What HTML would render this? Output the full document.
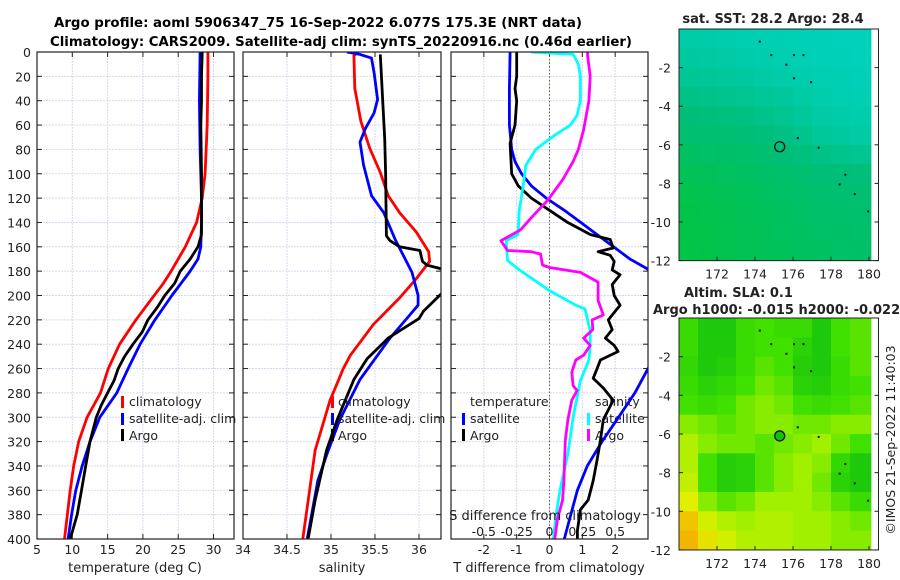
<!DOCTYPE html>
<html><head><meta charset="utf-8"><style>
html,body{margin:0;padding:0;background:#fff;}
svg{display:block;font-family:"DejaVu Sans","Liberation Sans",sans-serif;}
</style></head><body>
<svg id="fig" width="900" height="580" viewBox="0 0 900 580" xmlns="http://www.w3.org/2000/svg">
<defs>
<clipPath id="c1"><rect x="37" y="52" width="197" height="487"/></clipPath>
<clipPath id="c2"><rect x="243" y="52" width="198" height="487"/></clipPath>
<clipPath id="c3"><rect x="451" y="52" width="197" height="487"/></clipPath>
</defs>
<text x="318" y="27" font-size="13" font-weight="bold" text-anchor="middle" textLength="528" lengthAdjust="spacingAndGlyphs">Argo profile: aoml 5906347_75 16-Sep-2022 6.077S 175.3E (NRT data)</text>
<text x="341" y="46" font-size="13" font-weight="bold" text-anchor="middle" textLength="582" lengthAdjust="spacingAndGlyphs">Climatology: CARS2009. Satellite-adj clim: synTS_20220916.nc (0.46d earlier)</text>
<g id="layer"></g>
</svg>
<script>
// ---------- data ----------
const depthTicks=[0,20,40,60,80,100,120,140,160,180,200,220,240,260,280,300,320,340,360,380,400];
const tempTicks=[5,10,15,20,25,30];
const salTicks=[34,34.5,35,35.5,36];
const tdiffTicks=[-2,-1,0,1,2];
const sdiffTicks=[-0.5,-0.25,0,0.25,0.5];
const sdiffTickLabels=["-0.5","-0.25","0","0.25","0.5"];

const climTdepth=[0,20,60,100,120,140,160,170,180,190,200,210,220,240,260,280,300,320,340,360,400];
const climT=[29.2,29.2,29.1,28.8,28.4,27.6,26.0,25.0,24.0,22.9,21.6,20.3,19.0,16.7,15.1,14.0,12.1,10.9,10.2,9.7,8.9];
const satTdepth=[0,40,80,120,140,160,170,180,200,220,240,260,280,300,320,340,360,380,400];
const satT=[28.1,28.0,28.1,28.3,28.3,28.2,27.8,26.7,24.1,21.7,19.6,17.9,16.3,13.9,12.5,11.4,10.5,9.9,9.4];
const argoTdepth=[0,20,40,60,100,120,150,160,170,180,190,200,210,220,230,240,250,260,270,280,290,300,320,340,360,380,400];
const argoT=[28.4,28.3,28.3,28.2,28.3,28.3,28.3,27.8,26.7,25.3,24.5,23.1,22.0,20.7,19.9,18.6,17.4,16.5,15.9,15.0,14.1,13.4,12.5,11.9,11.3,10.7,9.7];

const climSdepth=[0,3,30,57,79,99,118,132,148,164,172,186,202,224,249,260,286,327,400];
const climS=[35.31,35.26,35.27,35.34,35.44,35.56,35.65,35.78,35.97,36.11,36.12,35.97,35.78,35.48,35.22,35.14,34.99,34.82,34.68];
const satSdepth=[0,2,5,17,39,50,63,74,93,118,132,154,181,200,208,219,235,252,269,302,327,352,400];
const satS=[35.18,35.33,35.46,35.49,35.53,35.49,35.39,35.33,35.37,35.46,35.6,35.73,35.92,35.99,35.99,35.86,35.67,35.5,35.33,35.1,34.97,34.85,34.73];
const argoSdepth=[2,43,71,99,151,155,160,163,172,175,179,190,198,213,219,235,252,269,302,327,368,400];
const argoS=[35.56,35.59,35.61,35.62,35.63,35.67,35.78,36.01,36.04,36.09,36.3,36.4,36.26,36.05,36.0,35.65,35.41,35.26,35.07,34.95,34.82,34.74];

const dTsatDepth=[0,30,60,80,90,100,110,120,130,140,150,160,170,180,250,280,300,320,340,360,380,400];
const dTsat=[-1.2,-1.22,-1.22,-1.15,-1.05,-0.85,-0.55,-0.1,0.45,0.95,1.45,1.95,2.45,3.1,3.2,2.6,2.1,1.6,1.15,0.85,0.65,0.45];
const dTargoDepth=[0,20,30,40,60,75,100,110,120,130,140,150,154,161,164,167,172,179,183,191,200,208,214,220,228,235,241,246,253,260,268,276,286,302,319,335,352,368,376,393,400];
const dTargo=[-1.0,-1.0,-1.05,-1.0,-1.05,-1.2,-1.15,-0.95,-0.55,0.0,0.55,1.25,1.85,1.94,1.48,1.85,1.97,1.91,2.15,1.91,1.97,2.15,1.97,1.79,1.91,1.70,1.97,2.09,1.55,1.45,1.33,1.64,1.94,1.64,1.55,1.45,1.33,1.18,0.94,0.85,0.85];
const dSsatDepth=[0,2,10,20,40,52,60,68,80,93,110,130,150,155,171,173,179,196,208,211,229,241,253,270,300,330,360,380,400];
const dSsat=[-0.14,0.18,0.22,0.235,0.235,0.21,0.16,0.045,-0.105,-0.18,-0.2,-0.23,-0.24,-0.33,-0.32,-0.3,-0.23,0.0,0.2,0.27,0.31,0.31,0.3,0.235,0.18,0.14,0.08,0.05,0.03];
const dSargoDepth=[0,3,20,40,64,80,90,105,122,134,146,152,155,163,164,166,175,177,181,189,204,216,220,228,235,241,249,253,263,274,278,286,302,319,352,368,384,400];
const dSargo=[0.29,0.29,0.31,0.30,0.26,0.22,0.18,0.1,-0.015,-0.12,-0.22,-0.32,-0.37,-0.32,-0.14,-0.068,-0.053,0.0,0.235,0.37,0.37,0.41,0.325,0.33,0.26,0.31,0.26,0.2,0.17,0.18,0.21,0.17,0.14,0.12,0.11,0.1,0.06,0.04];

// maps
const lonTicks=[172,174,176,178,180];
const latTicks=[-2,-4,-6,-8,-10,-12];
const sstGrid=[
[0.84,0.86,0.88,0.90,0.92,0.93,0.94,0.96,0.97,0.98,0.98],
[0.78,0.80,0.83,0.86,0.88,0.90,0.92,0.94,0.96,0.97,0.97],
[0.70,0.72,0.75,0.78,0.82,0.85,0.88,0.91,0.93,0.95,0.95],
[0.60,0.62,0.65,0.68,0.72,0.76,0.82,0.87,0.90,0.92,0.92],
[0.50,0.52,0.54,0.57,0.62,0.68,0.75,0.82,0.86,0.88,0.88],
[0.42,0.44,0.46,0.48,0.52,0.58,0.66,0.74,0.78,0.82,0.82],
[0.32,0.34,0.36,0.38,0.42,0.48,0.54,0.60,0.64,0.68,0.68],
[0.22,0.24,0.28,0.32,0.36,0.40,0.44,0.48,0.50,0.52,0.52],
[0.14,0.18,0.22,0.26,0.30,0.34,0.38,0.42,0.44,0.46,0.46],
[0.10,0.14,0.18,0.22,0.26,0.30,0.34,0.38,0.40,0.42,0.42],
[0.10,0.12,0.16,0.20,0.24,0.28,0.32,0.34,0.36,0.38,0.38],
[0.08,0.12,0.16,0.20,0.24,0.26,0.30,0.32,0.34,0.36,0.36]];
const slaGrid=[
[.30,.10,.10,.30,.35,.30,.30,.10,.35,.40,.40],
[.30,.10,.10,.30,.35,.35,.20,.10,.35,.40,.40],
[.25,.10,.15,.30,.40,.35,.15,.10,.30,.40,.40],
[.30,.20,.25,.35,.45,.40,.20,.15,.30,.35,.35],
[.35,.30,.35,.45,.50,.45,.35,.30,.35,.40,.40],
[.50,.45,.40,.45,.50,.50,.45,.45,.50,.50,.50],
[.60,.50,.45,.45,.40,.45,.50,.55,.45,.35,.35],
[.60,.35,.15,.20,.40,.50,.55,.50,.25,.10,.10],
[.65,.35,.15,.20,.40,.50,.55,.45,.20,.10,.10],
[.75,.50,.40,.45,.55,.55,.55,.50,.40,.30,.30],
[.90,.70,.60,.55,.60,.60,.55,.55,.50,.45,.45],
[.95,.80,.70,.60,.60,.60,.55,.55,.50,.50,.50]];
const argoLon=175.3, argoLat=-6.1;

// ---------- helpers ----------
const NS="http://www.w3.org/2000/svg";
const L=document.getElementById('layer');
function mk(tag,at,parent){const e=document.createElementNS(NS,tag);for(const k in at)e.setAttribute(k,at[k]);(parent||L).appendChild(e);return e;}
const dTop=52,dBot=539;
function yD(d){return dTop+(d/400)*(dBot-dTop);}
const P1={x0:37,x1:234,v0:5,v1:32.9};
const P2={x0:243,x1:441,v0:34,v1:36.25};
const P3={x0:451,x1:648,v0:-3,v1:3};
function xs(P,v){return P.x0+(v-P.v0)/(P.v1-P.v0)*(P.x1-P.x0);}
function xS3(s){return xs(P3,s*4);}

function panel(P,ticks,name,labels){
  const g=mk('g',{});
  
  
  depthTicks.forEach(d=>{const l=mk('line',{x1:P.x0,x2:P.x1,y1:yD(d),y2:yD(d),stroke:'#d6d9ee','stroke-width':1,'stroke-dasharray':'2,1'},g);
    });
  ticks.forEach(v=>{const x=xs(P,v);const l=mk('line',{x1:x,x2:x,y1:dTop,y2:dBot,stroke:'#d6d9ee','stroke-width':1,'stroke-dasharray':'2,1'},g);
    });
  depthTicks.forEach(d=>{mk('line',{x1:P.x0,x2:P.x0+5,y1:yD(d),y2:yD(d),stroke:'#222'},g);mk('line',{x1:P.x1,x2:P.x1-5,y1:yD(d),y2:yD(d),stroke:'#222'},g);});
  ticks.forEach((v,i)=>{const x=xs(P,v);mk('line',{x1:x,x2:x,y1:dBot,y2:dBot-5,stroke:'#222'},g);mk('line',{x1:x,x2:x,y1:dTop,y2:dTop+5,stroke:'#222'},g);
    const t=mk('text',{x:x,y:554,'font-size':12.5,'text-anchor':'middle',fill:'#222'},g);t.textContent=labels?labels[i]:String(v);
    });
  return g;
}
function line(P,vals,depths,color,clip,name,xf){
  const pts=vals.map((v,i)=>(xf?xf(v):xs(P,v)).toFixed(1)+','+yD(depths[i]).toFixed(1)).join(' ');
  const e=mk('polyline',{points:pts,fill:'none',stroke:color,'stroke-width':2.8,'stroke-linejoin':'round','clip-path':'url(#'+clip+')'});
  
  
}
function frame(P){const r=mk('rect',{x:P.x0,y:dTop,width:P.x1-P.x0,height:dBot-dTop,fill:'none',stroke:'#222','stroke-width':1.2});
  }
function txt(x,y,s,opt,name){const t=mk('text',Object.assign({x:x,y:y,'font-size':12.5,fill:'#222'},opt||{}));t.textContent=s;
  return t;}
function legMark(x,y,color){const r=mk('rect',{x:x,y:y-11,width:3,height:12,fill:color});
  }

// ---------- panel 1 ----------
panel(P1,tempTicks,'temperature-panel');
line(P1,climT,climTdepth,'#ff0000','c1','climatology-temp-line');
line(P1,satT,satTdepth,'#0000ff','c1','satellite-temp-line');
line(P1,argoT,argoTdepth,'#000','c1','argo-temp-line');
frame(P1);
depthTicks.forEach(d=>{txt(31,yD(d)+5,String(d),{'text-anchor':'end'},'y-tick-label');});
txt(135,572,'temperature (deg C)',{'text-anchor':'middle','font-size':13},'x-axis-title-temperature');
legMark(121,407,'#ff0000');txt(129,406,'climatology',{},'legend-climatology');
legMark(121,424,'#0000ff');txt(129,423,'satellite-adj. clim',{},'legend-satellite');
legMark(121,440,'#000');txt(129,440,'Argo',{},'legend-argo');

// ---------- panel 2 ----------
panel(P2,salTicks,'salinity-panel');
line(P2,climS,climSdepth,'#ff0000','c2','climatology-salinity-line');
line(P2,satS,satSdepth,'#0000ff','c2','satellite-salinity-line');
line(P2,argoS,argoSdepth,'#000','c2','argo-salinity-line');
frame(P2);
txt(342,572,'salinity',{'text-anchor':'middle','font-size':13},'x-axis-title-salinity');
legMark(331,407,'#ff0000');txt(338,406,'climatology',{},'legend-climatology-2');
legMark(331,424,'#0000ff');txt(338,423,'satellite-adj. clim',{},'legend-satellite-2');
legMark(331,440,'#000');txt(338,440,'Argo',{},'legend-argo-2');

// ---------- panel 3 ----------
panel(P3,tdiffTicks,'difference-panel');
const zl=mk('line',{x1:xs(P3,0),x2:xs(P3,0),y1:dTop,y2:dBot,stroke:'#556b2f','stroke-width':1,'stroke-dasharray':'1.5,2'});

txt(470,406,'temperature',{},'legend-temperature-heading');
legMark(462,424,'#0000ff');txt(470,423,'satellite',{},'legend-temp-satellite');
legMark(462,440,'#000');txt(470,440,'Argo',{},'legend-temp-argo');
txt(595,406,'salinity',{},'legend-salinity-heading');
legMark(587,424,'#00ffff');txt(595,423,'satellite',{},'legend-sal-satellite');
legMark(587,440,'#ff00ff');txt(595,440,'Argo',{},'legend-sal-argo');
line(P3,dTsat,dTsatDepth,'#0000ff','c3','tdiff-satellite-line');
line(P3,dTargo,dTargoDepth,'#000','c3','tdiff-argo-line');
line(P3,dSsat,dSsatDepth,'#00ffff','c3','sdiff-satellite-line',xS3);
line(P3,dSargo,dSargoDepth,'#ff00ff','c3','sdiff-argo-line',xS3);
frame(P3);
txt(545,520,'S difference from climatology',{'text-anchor':'middle','font-size':13},'s-axis-title');
sdiffTicks.forEach((s,i)=>txt(xS3(s),536,sdiffTickLabels[i],{'text-anchor':'middle'},'s-tick-label'));
txt(549,572,'T difference from climatology',{'text-anchor':'middle','font-size':13},'x-axis-title-tdiff');

// ---------- maps ----------
function lerpC(stops,v){v=Math.max(0,Math.min(1,v));for(let i=1;i<stops.length;i++){if(v<=stops[i][0]){const a=stops[i-1],b=stops[i],t=(v-a[0])/(b[0]-a[0]);
  return 'rgb('+[0,1,2].map(k=>Math.round(a[1][k]+(b[1][k]-a[1][k])*t)).join(',')+')';}}return 'rgb('+stops[stops.length-1][1].join(',')+')';}
const sstStops=[[0,[0,198,60]],[0.5,[0,190,120]],[1,[0,210,190]]];
const slaStops=[[0,[16,192,16]],[0.35,[64,224,0]],[0.55,[160,240,0]],[0.75,[224,240,0]],[1,[248,168,0]]];
function map(M,grid,stops,name,filledCircle){
  const g=mk('g',{});
  const X=lon=>M.x0+(lon-170)*M.px, Y=lat=>M.y0-lat*M.py;
  grid.forEach((row,r)=>row.forEach((v,c)=>{
    const lon0=170+c, lon1=Math.min(170+c+1,180.1);
    if(lon0>=180.1)return;
    const cell=mk('rect',{x:X(lon0),y:Y(-r),width:X(lon1)-X(lon0)+0.5,height:M.py+0.5,fill:lerpC(stops,v)},g);
    
  }));
  const fr=mk('rect',{x:M.x0,y:M.y0,width:X(180.5)-M.x0,height:12*M.py,fill:'none',stroke:'#222','stroke-width':1},g);
  
  lonTicks.forEach(l=>{const x=X(l);mk('line',{x1:x,x2:x,y1:Y(-12),y2:Y(-12)-4,stroke:'#222'},g);
    txt(x,Y(-12)+18,String(l),{'text-anchor':'middle'},'map-lon-label');});
  latTicks.forEach(l=>{const y=Y(l);mk('line',{x1:M.x0,x2:M.x0+4,y1:y,y2:y,stroke:'#222'},g);mk('line',{x1:X(180.5),x2:X(180.5)-4,y1:y,y2:y,stroke:'#222'},g);
    txt(M.x0-8,y+5,String(l),{'text-anchor':'end'},'map-lat-label');});
  [[174.2,-0.6],[174.8,-1.3],[175.6,-1.8],[176.0,-1.3],[176.5,-1.3],[176.0,-2.5],[176.9,-2.7],[176.2,-5.6],[177.3,-6.1],[178.7,-7.5],[178.4,-8.0],[179.2,-8.5],[179.9,-9.4]].forEach(p=>{
    const d=mk('rect',{x:X(p[0]),y:Y(p[1]),width:2,height:2,fill:'#111'},g);});
  const c=mk('circle',{cx:X(argoLon),cy:Y(argoLat),r:5,fill:filledCircle?'#10c010':'none',stroke:'#111','stroke-width':1.3},g);
  
}
map({x0:679,y0:29,px:19,py:19.3},sstGrid,sstStops,'sst-map',false);
map({x0:679,y0:318,px:19,py:19.33},slaGrid,slaStops,'sla-map',true);
txt(773,23,'sat. SST: 28.2 Argo: 28.4',{'text-anchor':'middle','font-weight':'bold','font-size':13},'sst-map-title');
txt(684,297,'Altim. SLA: 0.1',{'font-weight':'bold','font-size':13},'sla-map-title');
txt(653,314,'Argo h1000: -0.015 h2000: -0.022',{'font-weight':'bold','font-size':13},'sla-map-subtitle');
txt(0,0,'©IMOS 21-Sep-2022 11:40:03',{'font-size':12.5,'text-anchor':'middle',transform:'translate(895,440) rotate(-90)'},'timestamp-credit');
</script>
</body></html>
